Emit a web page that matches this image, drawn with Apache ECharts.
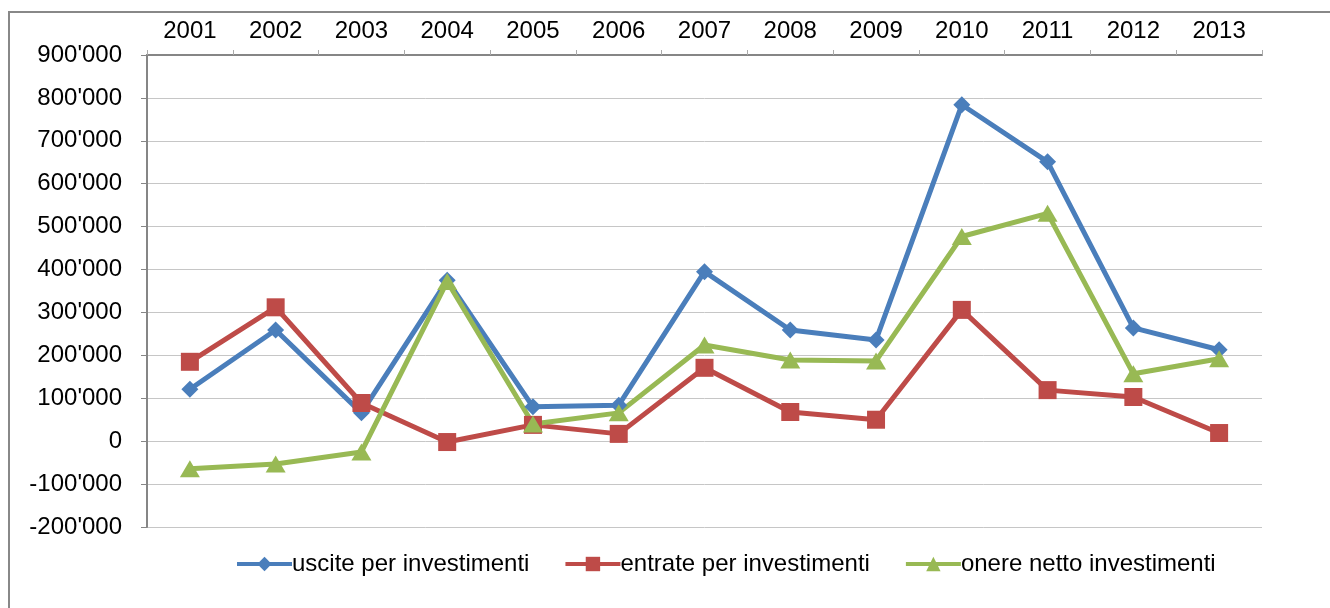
<!DOCTYPE html>
<html>
<head>
<meta charset="utf-8">
<script src="https://cdn.jsdelivr.net/npm/echarts@6/dist/echarts.min.js"></script>
<style>
	html, body { margin: 0; padding: 0; background: #fff; }
	#chart { width: 1330px; height: 608px; }
</style>
</head>
<body>
<div id="chart"></div>
<script>
	// anni
	var years = ['2001', '2002', '2003', '2004', '2005', '2006', '2007', '2008', '2009', '2010', '2011', '2012', '2013'];
	// uscite per investimenti
	var uscite = [121000, 259000, 66000, 375000, 80000, 84000, 395000, 259000, 236000, 784000, 651000, 264000, 213000];
	// entrate per investimenti
	var entrate = [185000, 312000, 89000, -2000, 38000, 17000, 171000, 68000, 50000, 306000, 119000, 103000, 19000];
	// onere netto investimenti
	var onere = [-64000, -53000, -25000, 372000, 40000, 66000, 224000, 189000, 187000, 477000, 531000, 157000, 192000];

	var seriesNames = ['uscite per investimenti', 'entrate per investimenti', 'onere netto investimenti'];
	var colors = ['#4a7ebb', '#be4b48', '#98b954'];
	var fontFam = '"Liberation Sans", Arial, sans-serif';

	function fmt(v) {
		var s = String(Math.abs(v)).replace(/\B(?=(\d{3})+(?!\d))/g, "'");
		return (v < 0 ? '-' : '') + s;
	}

	var chart = echarts.init(document.getElementById('chart'), null, { renderer: 'canvas' });

	var option = {
		animation: false,
		color: colors,
		textStyle: { fontFamily: fontFam },
		graphic: [{
			type: 'rect',
			shape: { x: 9, y: 12, width: 1400, height: 700 },
			style: { fill: null, stroke: '#888', lineWidth: 2 },
			silent: true
		}],
		grid: {
			left: 147,
			top: 55,
			right: 68,
			bottom: 81
		},
		legend: {
			bottom: 27,
			left: 230,
			itemWidth: 55,
			itemHeight: 18,
			itemGap: 34,
			lineStyle: { width: 4 },
			textStyle: { fontSize: 24, color: '#000', fontFamily: fontFam, padding: [0, 0, 0, -5] },
			data: seriesNames
		},
		xAxis: {
			type: 'category',
			position: 'top',
			data: years,
			boundaryGap: true,
			axisLine: { onZero: false, lineStyle: { color: '#868686', width: 2 } },
			axisTick: { show: true, inside: false, length: 5, lineStyle: { color: '#aaa' } },
			axisLabel: { fontSize: 24, color: '#000', margin: 12, fontFamily: fontFam },
			splitLine: { show: false }
		},
		yAxis: {
			type: 'value',
			min: -200000,
			max: 900000,
			interval: 100000,
			axisLine: { show: true, lineStyle: { color: '#868686', width: 2 } },
			axisTick: { show: true, length: 6, lineStyle: { color: '#868686' } },
			axisLabel: { fontSize: 24, color: '#000', margin: 25, fontFamily: fontFam, formatter: fmt },
			splitLine: { show: true, lineStyle: { color: '#c6c6c6', width: 1 } }
		},
		series: [{
			name: seriesNames[0],
			type: 'line',
			data: uscite,
			symbol: 'diamond',
			symbolSize: 17,
			lineStyle: { width: 5, color: colors[0] },
			itemStyle: { color: colors[0] }
		}, {
			name: seriesNames[1],
			type: 'line',
			data: entrate,
			symbol: 'rect',
			symbolSize: 18,
			lineStyle: { width: 5, color: colors[1] },
			itemStyle: { color: colors[1] }
		}, {
			name: seriesNames[2],
			type: 'line',
			data: onere,
			symbol: 'triangle',
			symbolSize: [20, 17],
			lineStyle: { width: 5, color: colors[2] },
			itemStyle: { color: colors[2] }
		}]
	};

	chart.setOption(option);
</script>
</body>
</html>
